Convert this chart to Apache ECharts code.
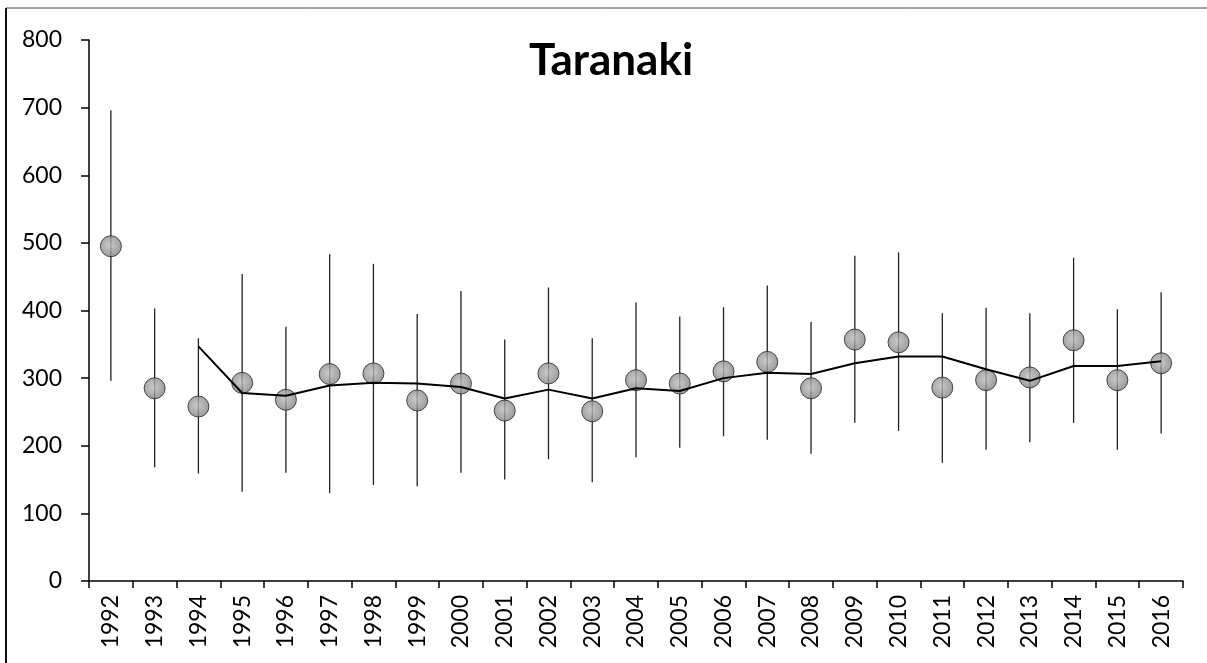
<!DOCTYPE html>
<html lang="en">
<head>
    <meta charset="UTF-8">
    <title>Taranaki</title>
    <script src="https://cdn.jsdelivr.net/npm/echarts@6/dist/echarts.min.js"></script>
    <style>
      html, body { margin: 0; padding: 0; background: #fff; }
      #main { width: 1207px; height: 663px; }
    </style>
</head>
<body>
  <div id="main"></div>

  <script type="text/javascript">
    // data
    const years = ['1992', '1993', '1994', '1995', '1996', '1997', '1998', '1999', '2000', '2001', '2002', '2003', '2004',
      '2005', '2006', '2007', '2008', '2009', '2010', '2011', '2012', '2013', '2014', '2015', '2016'];
    const means = [495, 285, 258, 293, 268, 306, 307, 267, 292, 252, 307, 251, 297,
      292, 310, 324, 285, 357, 353, 286, 297, 301, 356, 297, 322];
    const upper = [696, 403, 359, 454, 376, 483, 469, 395, 429, 357, 434, 359, 412,
      391, 405, 437, 383, 481, 486, 396, 404, 396, 478, 402, 427];
    const lower = [296, 168, 159, 132, 160, 130, 142, 140, 160, 150, 180, 146, 183,
      197, 214, 209, 188, 234, 222, 175, 194, 205, 234, 194, 218];
    const trend = [null, null, 347, 278, 274, 289, 293, 292, 287, 270, 283, 270, 285,
      281, 300, 308, 306, 322, 332, 332, 313, 296, 318, 318, 325];
    const yTicks = { min: 0, max: 800, interval: 100 };

    var dom = document.getElementById('main');
    var myChart = echarts.init(dom, null, { renderer: 'canvas' });

    var font = 'Lato, "Open Sans", sans-serif';

    var errData = years.map(function (y, i) { return [i, lower[i], upper[i]]; });

    var option = {
      animation: false,
      backgroundColor: '#fff',
      title: {
        text: 'Taranaki',
        left: 606,
        top: 34,
        textAlign: 'center',
        textStyle: { fontFamily: font, fontWeight: 'bold', fontSize: 44, color: '#000' }
      },
      graphic: [
        { type: 'line', shape: { x1: 6, y1: 8, x2: 1207, y2: 8 }, style: { stroke: '#444', lineWidth: 1 } },
        { type: 'line', shape: { x1: 6, y1: 8, x2: 6, y2: 663 }, style: { stroke: '#111', lineWidth: 2 } }
      ],
      grid: { left: 89, right: 24, top: 40, bottom: 82 },
      xAxis: {
        type: 'category',
        data: years,
        boundaryGap: true,
        axisLine: { lineStyle: { color: '#000', width: 1.5 } },
        axisTick: { show: true, length: 7, alignWithLabel: false, lineStyle: { color: '#000', width: 1.5 } },
        axisLabel: { rotate: 90, margin: 14, color: '#000', fontFamily: font, fontSize: 23, interval: 0 },
        splitLine: { show: false }
      },
      yAxis: {
        type: 'value',
        min: yTicks.min,
        max: yTicks.max,
        interval: yTicks.interval,
        axisLine: { show: true, lineStyle: { color: '#000', width: 1.5 } },
        axisTick: { show: true, length: 8, lineStyle: { color: '#000', width: 1.5 } },
        axisLabel: { margin: 27, color: '#000', fontFamily: font, fontSize: 23 },
        splitLine: { show: false }
      },
      series: [
        {
          type: 'custom',
          name: 'range',
          z: 1,
          data: errData,
          encode: { x: 0, y: [1, 2] },
          renderItem: function (params, api) {
            var x = api.value(0);
            var lo = api.coord([x, api.value(1)]);
            var hi = api.coord([x, api.value(2)]);
            return {
              type: 'line',
              shape: { x1: lo[0], y1: lo[1], x2: hi[0], y2: hi[1] },
              style: { stroke: '#222', lineWidth: 1.3 }
            };
          }
        },
        {
          type: 'scatter',
          name: 'mean',
          z: 2,
          data: means,
          symbol: 'circle',
          symbolSize: 21,
          itemStyle: {
            color: {
              type: 'radial', x: 0.45, y: 0.45, r: 0.6,
              colorStops: [{ offset: 0, color: '#bdbdbd' }, { offset: 1, color: '#7e7e7e' }]
            },
            borderColor: '#222',
            borderWidth: 1
          }
        },
        {
          type: 'line',
          name: 'trend',
          z: 3,
          data: trend,
          showSymbol: false,
          symbol: 'none',
          connectNulls: false,
          lineStyle: { color: '#000', width: 2 }
        }
      ]
    };

    myChart.setOption(option);
    window.addEventListener('resize', myChart.resize);
  </script>
</body>
</html>
